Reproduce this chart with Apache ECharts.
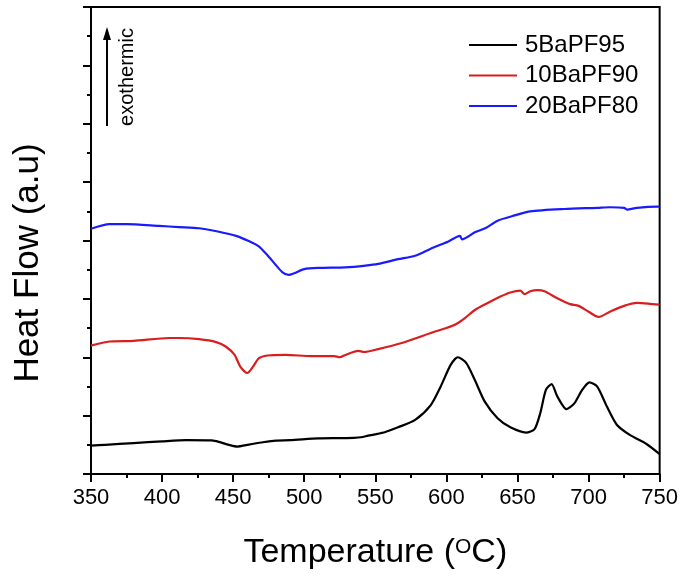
<!DOCTYPE html>
<html>
<head>
<meta charset="utf-8">
<style>
  html, body { margin: 0; padding: 0; background: #fff; }
  #chart { width: 681px; height: 578px; }
</style>
<script src="https://cdn.jsdelivr.net/npm/echarts@6/dist/echarts.min.js"></script>
</head>
<body>
<div id="chart"></div>
<script>
// DSC traces: temperature (°C) and heat flow (a.u., stacked offsets)
const seriesNames = ['5BaPF95', '10BaPF90', '20BaPF80'];

const tempBlack = [350, 360, 380, 400, 417, 435, 440, 447, 453, 460, 470, 480, 490, 510, 525, 535, 540, 545, 550, 557,
  566, 578, 589, 596, 603, 608, 614, 620, 627, 636, 645, 656, 662, 666, 670, 674, 678, 684.5, 690, 695.5,
  700.6, 706, 713, 720, 729, 741, 750];
const heatBlack = [0.485, 0.50, 0.53, 0.56, 0.58, 0.575, 0.55, 0.50, 0.47, 0.50, 0.54, 0.573, 0.58, 0.61, 0.615, 0.62, 0.63, 0.657, 0.68, 0.72,
  0.80, 0.926, 1.18, 1.50, 1.87, 2.00, 1.90, 1.61, 1.24, 0.955, 0.80, 0.71, 0.77, 1.04, 1.44, 1.54, 1.33, 1.11, 1.21, 1.44,
  1.57, 1.50, 1.15, 0.84, 0.67, 0.51, 0.34];

const tempRed = [350, 363, 380, 405, 412, 426, 438, 445, 451, 455, 460, 464, 468, 474, 487, 505, 521, 525, 529, 538,
  542, 552, 568, 592, 600, 607, 613, 620, 629, 638, 645, 652, 655, 659, 664, 669, 678, 687, 693, 700,
  707, 715, 725, 734, 742, 750];
const heatRed = [2.20, 2.27, 2.28, 2.33, 2.33, 2.31, 2.26, 2.18, 2.04, 1.84, 1.73, 1.84, 1.98, 2.03, 2.04, 2.02, 2.02, 2.00, 2.04, 2.11,
  2.09, 2.14, 2.24, 2.44, 2.50, 2.57, 2.67, 2.81, 2.93, 3.04, 3.11, 3.14, 3.08, 3.13, 3.15, 3.13, 3.01, 2.91, 2.88, 2.78,
  2.69, 2.78, 2.88, 2.93, 2.92, 2.90];

const tempBlue = [350, 363, 375, 398, 412, 426, 440, 452, 461, 468, 474, 480, 484.5, 489, 493, 500, 510, 529, 543, 552,
  566, 578, 589, 601, 609.5, 611, 620, 628, 636, 648, 659, 683, 706, 715, 725, 727, 734, 748, 750];
const heatBlue = [4.20, 4.28, 4.28, 4.25, 4.23, 4.21, 4.15, 4.08, 3.99, 3.90, 3.75, 3.58, 3.46, 3.41, 3.44, 3.51, 3.53, 3.54, 3.57, 3.60,
  3.68, 3.74, 3.86, 3.98, 4.08, 4.02, 4.14, 4.22, 4.34, 4.43, 4.50, 4.54, 4.56, 4.57, 4.56, 4.53, 4.56, 4.58, 4.58];

const xTicks = { min: 350, max: 750, step: 50 };
const yTicks = { min: 0, max: 8, step: 1 };

const colors = ['#000000', '#d81e1e', '#1a1aff'];
const FONT = '"Liberation Sans", Arial, sans-serif';

function pairs(xs, ys) { return xs.map((x, i) => [x, ys[i]]); }

const traces = [pairs(tempBlack, heatBlack), pairs(tempRed, heatRed), pairs(tempBlue, heatBlue)];

const chart = echarts.init(document.getElementById('chart'), null, { renderer: 'canvas' });

chart.setOption({
  backgroundColor: '#ffffff',
  animation: false,
  grid: {
    left: 91, right: 18, top: 7, bottom: 104,
    show: true, borderColor: '#000', borderWidth: 2, backgroundColor: 'transparent'
  },
  legend: {
    orient: 'vertical',
    left: 464, top: 28,
    icon: 'rect',
    itemWidth: 48, itemHeight: 2, itemGap: 6.5,
    data: seriesNames,
    textStyle: { fontFamily: FONT, fontSize: 24, color: '#000', lineHeight: 24, padding: [0, 0, 0, 3] }
  },
  xAxis: {
    type: 'value',
    min: xTicks.min, max: xTicks.max, interval: xTicks.step,
    name: '{a|Temperature (}{s|O}{a|C)}',
    nameLocation: 'middle',
    nameGap: 61,
    nameTextStyle: {
      rich: {
        a: { fontFamily: FONT, fontSize: 34, color: '#000', lineHeight: 36 },
        s: { fontFamily: FONT, fontSize: 21, color: '#000', lineHeight: 21, verticalAlign: 'top', padding: [2, 0, 0, 0] }
      }
    },
    axisLine: { show: true, onZero: false, lineStyle: { color: '#000', width: 2 } },
    axisTick: { show: true, inside: false, length: 8, lineStyle: { color: '#000', width: 2 } },
    minorTick: { show: true, splitNumber: 2, length: 4, lineStyle: { color: '#000', width: 2 } },
    axisLabel: { show: true, margin: 13, fontFamily: FONT, fontSize: 22, color: '#000' },
    splitLine: { show: false }
  },
  yAxis: {
    type: 'value',
    min: yTicks.min, max: yTicks.max, interval: yTicks.step,
    axisLine: { show: true, onZero: false, lineStyle: { color: '#000', width: 2 } },
    axisTick: { show: true, inside: false, length: 8, lineStyle: { color: '#000', width: 2 } },
    minorTick: { show: true, splitNumber: 2, length: 4, lineStyle: { color: '#000', width: 2 } },
    axisLabel: { show: false },
    splitLine: { show: false }
  },
  series: seriesNames.map((name, i) => ({
    name: name,
    type: 'line',
    data: traces[i],
    color: colors[i],
    symbol: 'none',
    smooth: 0.25,
    lineStyle: { color: colors[i], width: 2.2 },
    z: 3 - i
  })),
  graphic: [
    {
      type: 'text',
      x: 28, y: 263,
      rotation: Math.PI / 2,
      style: {
        text: 'Heat Flow (a.u)',
        font: '35px ' + FONT,
        fill: '#000',
        textAlign: 'center',
        textVerticalAlign: 'middle'
      }
    },
    {
      type: 'text',
      x: 127, y: 77,
      rotation: Math.PI / 2,
      style: {
        text: 'exothermic',
        font: '20px ' + FONT,
        fill: '#000',
        textAlign: 'center',
        textVerticalAlign: 'middle'
      }
    },
    {
      type: 'line',
      shape: { x1: 107, y1: 126, x2: 107, y2: 38 },
      style: { stroke: '#000', lineWidth: 2 }
    },
    {
      type: 'polygon',
      shape: { points: [[107, 27], [103, 40], [111, 40]] },
      style: { fill: '#000' }
    }
  ]
});
</script>
</body>
</html>
